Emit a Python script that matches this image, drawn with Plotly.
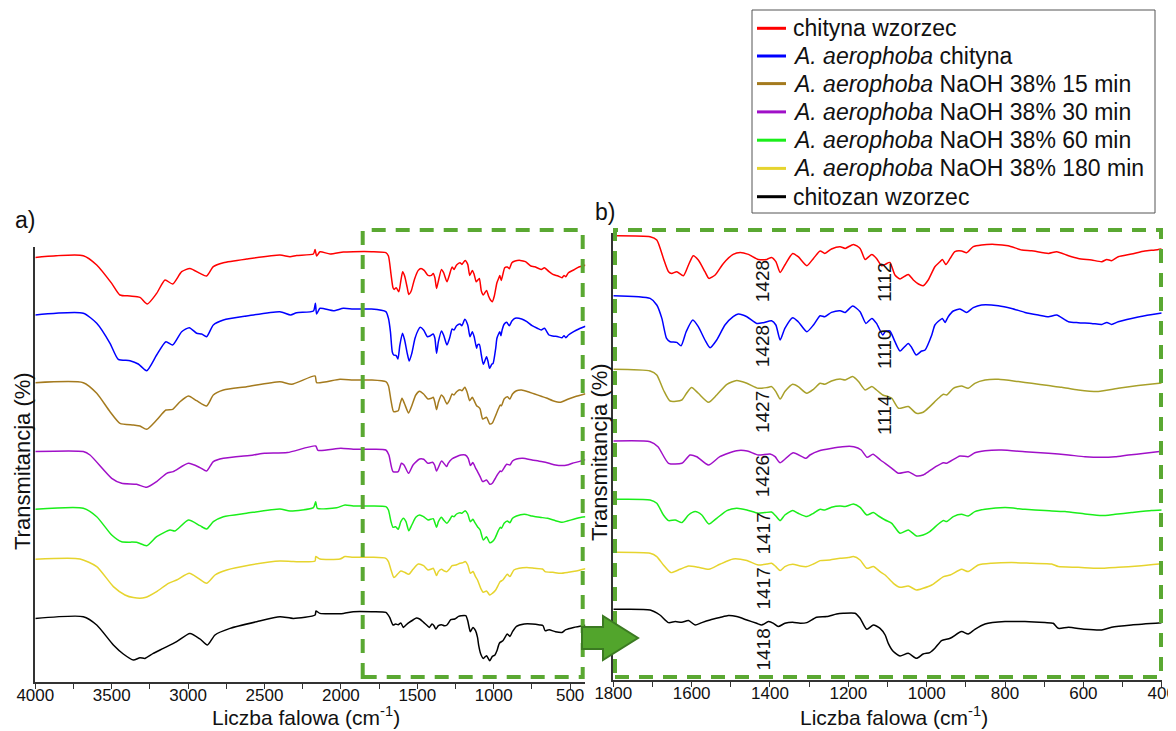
import plotly.graph_objects as go

# page offset of the plot div (browser body margin) and figure size
OX, OY = 8, 8
FW, FH = 1168, 723

NAMES = [
    "chityna wzorzec",
    "<i>A. aerophoba</i> chityna",
    "<i>A. aerophoba</i> NaOH 38% 15 min",
    "<i>A. aerophoba</i> NaOH 38% 30 min",
    "<i>A. aerophoba</i> NaOH 38% 60 min",
    "<i>A. aerophoba</i> NaOH 38% 180 min",
    "chitozan wzorzec",
]
COLORS_A = ["#ff0000", "#0000ff", "#a47a1e", "#a010c8", "#1aee1a", "#e6d42e", "#000000"]
COLORS_B = ["#ff0000", "#0000ff", "#a8a02a", "#a010c8", "#1aee1a", "#e6d42e", "#000000"]

# relative transmittance (0 at 1800 cm-1)
WN_RED = [4000, 3686, 3598, 3500, 3446, 3380, 3315, 3267, 3206, 3151, 3101, 3042, 2988, 2922, 2879, 2835, 2769, 2617, 2399, 2333, 2290, 2180, 2169, 2159, 2137, 2071, 1984, 1919,
          1800, 1706, 1689, 1672, 1659, 1651, 1638, 1621, 1608, 1596, 1583, 1566, 1556, 1540, 1519, 1494, 1476, 1455, 1430, 1408, 1396, 1385, 1374, 1362, 1342, 1328, 1306, 1289, 1272, 1260, 1243, 1221, 1208, 1187, 1170, 1157, 1140, 1128, 1115, 1106, 1094, 1081, 1068, 1047, 1034, 1021, 1009, 996, 979, 966, 960, 951, 940, 928, 911, 898, 881, 860, 826, 792, 757, 732, 689, 668, 638, 613, 579, 553, 540, 528, 511, 477, 443, 417, 400]
T_RED = [-5.7, -4.0, -13.3, -31.7, -43.3, -44.3, -45.7, -52.3, -41.7, -28.3, -32.3, -20.0, -16.7, -21.7, -24.3, -15.0, -11.0, -7.3, -3.3, -5.0, -3.7, -2.3, 2.3, -4.3, 0.0, -2.3, -0.3, 0.0,
         0.0, -1.0, -4.3, -22.7, -36.0, -37.7, -36.0, -40.0, -29.3, -20.0, -24.3, -36.0, -42.7, -39.3, -27.7, -18.7, -16.7, -18.7, -23.7, -23.7, -21.7, -26.0, -36.7, -29.3, -17.7, -21.0, -30.0, -22.7, -15.3, -17.7, -13.3, -11.0, -12.7, -8.7, -12.7, -23.7, -18.7, -22.7, -30.0, -28.7, -26.7, -39.3, -43.3, -38.7, -44.3, -48.3, -50.0, -44.3, -31.0, -26.0, -23.7, -28.7, -22.7, -16.0, -15.3, -17.0, -11.0, -9.3, -8.7, -10.0, -14.3, -15.0, -17.7, -16.0, -20.0, -22.7, -24.3, -26.0, -23.7, -25.0, -21.0, -18.3, -15.3, -14.3, -13.3]

WN_BLUE = [4000, 3686, 3598, 3511, 3457, 3380, 3326, 3271, 3206, 3145, 3101, 3042, 2992, 2944, 2911, 2879, 2835, 2769, 2617, 2399, 2329, 2290, 2180, 2167, 2159, 2137, 2049, 1984, 1919,
           1800, 1706, 1689, 1676, 1664, 1655, 1638, 1627, 1614, 1597, 1583, 1566, 1553, 1536, 1515, 1494, 1481, 1459, 1434, 1417, 1396, 1385, 1374, 1362, 1342, 1328, 1306, 1289, 1272, 1260, 1243, 1221, 1208, 1189, 1170, 1155, 1140, 1128, 1112, 1106, 1094, 1081, 1068, 1047, 1038, 1027, 1013, 1004, 987, 979, 966, 960, 953, 945, 932, 915, 898, 881, 860, 817, 783, 749, 715, 689, 668, 638, 613, 579, 553, 540, 528, 511, 477, 443, 400]
T_BLUE = [-6.0, -4.3, -14.3, -34.3, -50.3, -51.7, -55.0, -61.7, -46.0, -32.7, -36.0, -22.7, -18.7, -24.3, -25.0, -27.7, -16.0, -11.0, -7.0, -2.7, -6.0, -3.7, -2.0, 5.7, -5.0, 0.7, -1.7, 0.7, 0.0,
          0.0, -2.7, -9.3, -22.7, -42.7, -46.0, -46.7, -50.0, -36.0, -24.3, -31.0, -44.3, -52.0, -44.3, -29.3, -21.0, -18.3, -21.0, -27.7, -27.0, -25.0, -29.3, -44.3, -32.7, -22.0, -26.0, -36.0, -29.3, -20.0, -21.0, -16.7, -15.0, -16.7, -10.3, -16.0, -27.7, -22.7, -27.7, -39.3, -36.0, -35.3, -46.0, -55.3, -47.7, -52.0, -59.3, -55.3, -54.3, -39.3, -29.3, -24.3, -22.7, -26.7, -21.0, -15.3, -13.3, -16.7, -12.0, -9.3, -10.0, -12.7, -16.7, -19.3, -21.0, -19.3, -26.0, -27.0, -27.7, -28.7, -26.7, -28.7, -26.0, -22.7, -20.0, -17.3]

WN_15 = [4000, 3686, 3598, 3511, 3446, 3358, 3315, 3271, 3206, 3145, 3101, 3053, 2998, 2944, 2879, 2835, 2769, 2617, 2399, 2322, 2169, 2159, 2006, 1919,
         1800, 1706, 1689, 1672, 1655, 1625, 1613, 1600, 1583, 1557, 1536, 1510, 1485, 1459, 1430, 1408, 1396, 1385, 1374, 1362, 1342, 1328, 1306, 1289, 1272, 1260, 1243, 1221, 1208, 1189, 1174, 1157, 1140, 1128, 1112, 1098, 1089, 1072, 1047, 1026, 1009, 992, 970, 957, 949, 932, 911, 894, 877, 851, 817, 766, 732, 689, 655, 613, 562, 545, 511, 460, 400]
T_15 = [-2.7, -2.7, -13.3, -31.7, -43.3, -45.0, -46.0, -49.3, -40.0, -30.0, -29.3, -21.7, -16.0, -20.7, -26.0, -15.0, -10.0, -6.7, -1.7, -4.3, 4.0, -2.7, 0.7, 0.0,
        0.0, -1.7, -5.7, -20.7, -31.7, -30.7, -24.0, -18.3, -24.0, -33.0, -25.7, -15.0, -11.3, -14.0, -19.0, -18.3, -17.3, -22.3, -29.7, -22.3, -15.0, -17.3, -24.0, -20.0, -14.0, -15.0, -11.7, -9.7, -10.7, -7.3, -12.3, -20.7, -17.3, -20.7, -25.7, -27.3, -29.0, -39.0, -37.3, -44.0, -43.0, -37.3, -29.0, -25.0, -25.7, -19.0, -16.7, -19.0, -14.0, -10.7, -10.0, -12.3, -14.0, -16.3, -18.0, -20.7, -22.3, -21.3, -19.0, -16.3, -13.7]

WN_30 = [4000, 3686, 3642, 3500, 3435, 3337, 3271, 3206, 3140, 3097, 2998, 2922, 2879, 2835, 2769, 2573, 2500, 2350, 2165, 2150, 2000, 1919,
         1800, 1706, 1686, 1659, 1625, 1604, 1587, 1557, 1528, 1485, 1458, 1430, 1400, 1387, 1374, 1341, 1308, 1298, 1274, 1215, 1186, 1167, 1152, 1137, 1118, 1106, 1089, 1072, 1047, 1026, 1009, 992, 977, 957, 949, 915, 894, 877, 851, 809, 749, 689, 638, 596, 553, 519, 485, 443, 400]
T_30 = [-2.3, -2.3, -5.7, -29.0, -34.0, -35.0, -38.0, -32.3, -24.0, -22.3, -14.0, -18.3, -21.7, -12.3, -9.0, -5.7, -4.0, -3.3, 3.3, -1.0, 1.0, 0.0,
        0.0, -0.7, -5.7, -22.3, -22.3, -14.0, -15.7, -24.0, -15.7, -9.7, -10.0, -14.0, -13.0, -15.7, -21.7, -11.7, -17.3, -14.0, -9.7, -5.7, -5.7, -9.0, -16.3, -13.3, -19.0, -22.3, -27.3, -32.3, -30.7, -35.0, -34.0, -29.7, -25.7, -21.7, -22.3, -15.0, -15.7, -11.7, -9.7, -9.0, -10.7, -12.3, -14.0, -15.7, -16.3, -15.7, -14.0, -12.3, -10.3]

WN_60 = [4000, 3686, 3598, 3500, 3435, 3337, 3271, 3206, 3118, 3086, 2998, 2922, 2879, 2835, 2769, 2617, 2399, 2333, 2180, 2165, 2154, 2028, 1973, 1919,
         1800, 1706, 1689, 1672, 1659, 1642, 1625, 1608, 1591, 1574, 1556, 1536, 1510, 1485, 1459, 1430, 1413, 1396, 1385, 1374, 1362, 1342, 1328, 1306, 1289, 1272, 1260, 1243, 1221, 1208, 1187, 1170, 1153, 1136, 1123, 1106, 1089, 1068, 1047, 1026, 1009, 992, 970, 957, 949, 932, 911, 894, 877, 851, 800, 749, 698, 647, 596, 553, 519, 477, 426, 400]
T_60 = [-3.3, -2.3, -10.7, -29.0, -35.7, -36.3, -39.7, -30.7, -24.0, -25.0, -14.0, -19.7, -23.0, -15.7, -10.7, -7.3, -3.0, -5.0, -1.7, 4.3, -2.3, -1.7, 1.0, 0.0,
        0.0, -0.7, -4.0, -15.7, -21.3, -20.7, -23.3, -15.7, -12.3, -15.7, -24.7, -19.0, -11.3, -9.0, -10.7, -14.0, -13.3, -12.7, -16.7, -21.3, -15.7, -11.3, -14.0, -17.3, -14.0, -10.0, -10.7, -8.0, -6.7, -7.3, -4.7, -8.0, -15.7, -13.3, -16.7, -20.7, -24.0, -34.0, -30.7, -36.7, -35.7, -32.3, -24.7, -21.3, -22.3, -17.3, -15.0, -16.7, -12.3, -10.0, -8.3, -10.0, -11.3, -12.3, -14.7, -16.3, -15.0, -13.3, -11.3, -10.7]

WN_180 = [4000, 3707, 3598, 3489, 3413, 3358, 3282, 3206, 3129, 3075, 2992, 2933, 2879, 2824, 2747, 2595, 2399, 2311, 2169, 2165, 2137, 2006, 1973, 1919,
          1800, 1706, 1689, 1672, 1653, 1630, 1608, 1583, 1556, 1528, 1494, 1459, 1430, 1408, 1396, 1385, 1374, 1362, 1342, 1323, 1306, 1289, 1272, 1247, 1221, 1200, 1187, 1170, 1153, 1136, 1119, 1106, 1085, 1068, 1047, 1026, 1009, 987, 957, 940, 911, 894, 868, 834, 783, 732, 681, 664, 613, 562, 511, 460, 400]
T_180 = [-2.0, -1.7, -9.3, -29.3, -37.7, -40.3, -40.3, -34.3, -26.0, -22.7, -16.0, -21.0, -26.0, -17.7, -12.7, -7.7, -3.7, -4.3, -3.7, 0.7, -1.7, -1.7, 0.7, 0.0,
         0.0, -1.0, -4.3, -12.7, -20.3, -17.0, -13.7, -15.0, -17.0, -12.0, -6.7, -8.3, -12.7, -11.7, -11.0, -14.3, -18.3, -14.3, -12.0, -13.7, -14.3, -11.7, -8.3, -7.7, -6.0, -5.3, -4.3, -7.7, -16.0, -14.3, -19.3, -22.7, -31.0, -35.0, -33.7, -37.7, -36.0, -32.7, -24.3, -22.7, -17.0, -19.3, -12.7, -11.0, -10.3, -11.0, -11.7, -14.3, -15.0, -16.0, -15.0, -13.7, -11.5]

WN_CHITOZAN = [4000, 3686, 3598, 3489, 3424, 3358, 3315, 3282, 3228, 3162, 3075, 2988, 2922, 2874, 2824, 2726, 2551, 2399, 2311, 2169, 2163, 2137, 1984, 1919,
               1800, 1706, 1681, 1659, 1642, 1625, 1608, 1591, 1574, 1553, 1528, 1506, 1485, 1459, 1434, 1421, 1404, 1391, 1379, 1362, 1342, 1323, 1306, 1281, 1255, 1230, 1213, 1183, 1170, 1153, 1136, 1119, 1106, 1098, 1085, 1068, 1047, 1026, 1009, 992, 979, 962, 940, 911, 894, 877, 851, 800, 749, 698, 677, 664, 638, 596, 553, 528, 477, 400]
T_CHITOZAN = [-6.7, -5.0, -13.3, -33.3, -42.3, -48.3, -46.0, -46.7, -41.7, -36.7, -30.0, -21.7, -27.3, -33.3, -23.3, -16.7, -10.0, -5.0, -6.7, -3.3, 0.7, -1.7, -1.7, 0.0,
              0.0, -0.7, -5.7, -13.3, -12.3, -13.0, -11.3, -15.7, -13.3, -10.7, -8.3, -6.3, -7.3, -10.7, -14.0, -15.7, -12.3, -14.0, -17.3, -14.0, -13.0, -14.0, -13.3, -8.0, -7.3, -4.7, -4.0, -4.0, -9.0, -20.0, -15.7, -19.0, -25.7, -34.0, -42.3, -46.7, -44.0, -49.0, -44.7, -43.3, -39.0, -31.3, -29.0, -22.3, -24.7, -20.0, -14.7, -12.3, -12.3, -13.3, -14.0, -19.0, -18.0, -20.0, -20.7, -18.0, -15.7, -13.5]

SPECTRA = [(WN_RED, T_RED), (WN_BLUE, T_BLUE), (WN_15, T_15), (WN_30, T_30),
           (WN_60, T_60), (WN_180, T_180), (WN_CHITOZAN, T_CHITOZAN)]

# vertical stacking offsets of each spectrum in the two panels
OFFSET_A = [430.3, 373.0, 302.0, 232.7, 176.0, 124.7, 70.3]
OFFSET_B = [444.3, 384.3, 310.7, 239.0, 180.7, 127.7, 70.7]

TICKS_A = list(range(4000, 499, -250))
TICKS_B = list(range(1800, 399, -100))

LABELS_1420 = ["1428", "1428", "1427", "1426", "1417", "1417", "1418"]
LABELS_1110 = ["1112", "1110", "1114"]


def px(x):
    return (x - OX) / FW


def py(y):
    return 1 - (y - OY) / FH


FONT = "Arial, Liberation Sans, sans-serif"
INK = "#111111"
fig = go.Figure()

for i, (wn, t) in enumerate(SPECTRA):
    fig.add_trace(go.Scatter(
        x=wn, y=[OFFSET_A[i] + v for v in t], mode="lines", name=NAMES[i],
        line=dict(color=COLORS_A[i], width=1.5, shape="spline", smoothing=0.6),
        xaxis="x", yaxis="y", showlegend=False))
for i, (wn, t) in enumerate(SPECTRA):
    xs = [w for w in wn if w <= 1800]
    ys = [OFFSET_B[i] + v for w, v in zip(wn, t) if w <= 1800]
    fig.add_trace(go.Scatter(
        x=xs, y=ys, mode="lines", name=NAMES[i],
        line=dict(color=COLORS_B[i], width=1.5, shape="spline", smoothing=0.6),
        xaxis="x2", yaxis="y2", showlegend=False))

axis_common = dict(showgrid=False, zeroline=False, showline=True, linecolor="#333333", linewidth=1.5,
                   ticks="outside", ticklen=5, tickwidth=1.2, tickcolor="#333333",
                   ticklabelstandoff=-8, automargin=False,
                   tickfont=dict(family=FONT, size=17, color=INK))
yaxis_common = dict(showgrid=False, zeroline=False, showline=True, linecolor="#333333", linewidth=1.5,
                    showticklabels=False, ticks="", automargin=False)

fig.update_layout(
    width=FW, height=FH, margin=dict(l=0, r=0, t=0, b=0, pad=0, autoexpand=False),
    paper_bgcolor="white", plot_bgcolor="white", showlegend=False,
    xaxis=dict(domain=[px(35.3), px(585.4)], range=[4000, 400], anchor="y",
               tickmode="array", tickvals=TICKS_A,
               ticktext=[str(v) if v % 500 == 0 else "" for v in TICKS_A], **axis_common),
    yaxis=dict(domain=[py(682), py(247)], range=[0, 435], anchor="x", **yaxis_common),
    xaxis2=dict(domain=[px(613.3), px(1161.7)], range=[1800, 400], anchor="y2",
                tickmode="array", tickvals=TICKS_B,
                ticktext=[str(v) if v % 200 == 0 else "" for v in TICKS_B], **axis_common),
    yaxis2=dict(domain=[py(680), py(233)], range=[0, 447], anchor="x2", **yaxis_common),
)

GREEN = "#5aa832"
shapes = [
    dict(type="rect", xref="paper", yref="paper", x0=px(362.7), x1=px(582.7), y0=py(677), y1=py(230),
         line=dict(color=GREEN, width=4, dash="14px,10px"), layer="above"),
    dict(type="rect", xref="paper", yref="paper", x0=px(615), x1=px(1161), y0=py(677), y1=py(230),
         line=dict(color=GREEN, width=4, dash="14px,10px"), layer="above"),
]
arrow_pts = [(582, 627), (603, 627), (603, 616), (638, 638), (603, 660), (603, 649), (582, 649)]
path = "M " + " L ".join(f"{px(x):.5f},{py(y):.5f}" for x, y in arrow_pts) + " Z"
shapes.append(dict(type="path", xref="paper", yref="paper", path=path,
                   fillcolor="#52a52c", line=dict(color="#3b7a22", width=2), layer="above"))

# legend box (drawn to match the original layout)
LEG_X0, LEG_X1, LEG_Y0, LEG_Y1 = 752, 1155, 10, 213
LEG_ROWS = [28.3, 56.0, 83.6, 111.9, 140.2, 168.4, 196.7]
shapes.append(dict(type="rect", xref="paper", yref="paper", x0=px(LEG_X0), x1=px(LEG_X1),
                   y0=py(LEG_Y1), y1=py(LEG_Y0), line=dict(color="#555555", width=1),
                   fillcolor="white", layer="above"))
ann = []
for name, col, ry in zip(NAMES, COLORS_A, LEG_ROWS):
    shapes.append(dict(type="line", xref="paper", yref="paper", x0=px(757), x1=px(786),
                       y0=py(ry), y1=py(ry), line=dict(color=col, width=3), layer="above"))
    ann.append(dict(x=px(791), y=py(ry), xref="paper", yref="paper", text=name, xanchor="left",
                    yanchor="middle", showarrow=False, font=dict(family=FONT, size=23, color=INK)))
fig.update_layout(shapes=shapes)

label_y_1420 = [398.3, 333.3, 267.5, 203.3, 146.0, 91.0, 30.0]
for txt, yv in zip(LABELS_1420, label_y_1420):
    ann.append(dict(x=1419, y=yv, xref="x2", yref="y2", text=txt, textangle=-90, showarrow=False,
                    xanchor="center", yanchor="middle", font=dict(family=FONT, size=19, color=INK)))
label_y_1110 = [398.0, 331.0, 265.0]
for txt, yv in zip(LABELS_1110, label_y_1110):
    ann.append(dict(x=1109, y=yv, xref="x2", yref="y2", text=txt, textangle=-90, showarrow=False,
                    xanchor="center", yanchor="middle", font=dict(family=FONT, size=19, color=INK)))

title_font = dict(family=FONT, size=21, color=INK)
ytitle_font = dict(family=FONT, size=22, color=INK)
centered = dict(xref="paper", yref="paper", showarrow=False, xanchor="center", yanchor="middle")
ann += [
    dict(x=px(306), y=py(716), text="Liczba falowa (cm<sup>-1</sup>)", font=title_font, **centered),
    dict(x=px(894), y=py(716), text="Liczba falowa (cm<sup>-1</sup>)", font=title_font, **centered),
    dict(x=px(22), y=py(461), text="Transmitancja (%)", textangle=-90, font=ytitle_font, **centered),
    dict(x=px(599), y=py(452), text="Transmitancja (%)", textangle=-90, font=ytitle_font, **centered),
    dict(x=px(25), y=py(220), text="a)", font=dict(family=FONT, size=23, color=INK), **centered),
    dict(x=px(605), y=py(212), text="b)", font=dict(family=FONT, size=23, color=INK), **centered),
]
fig.update_layout(annotations=ann)

fig.write_html("out.html")
